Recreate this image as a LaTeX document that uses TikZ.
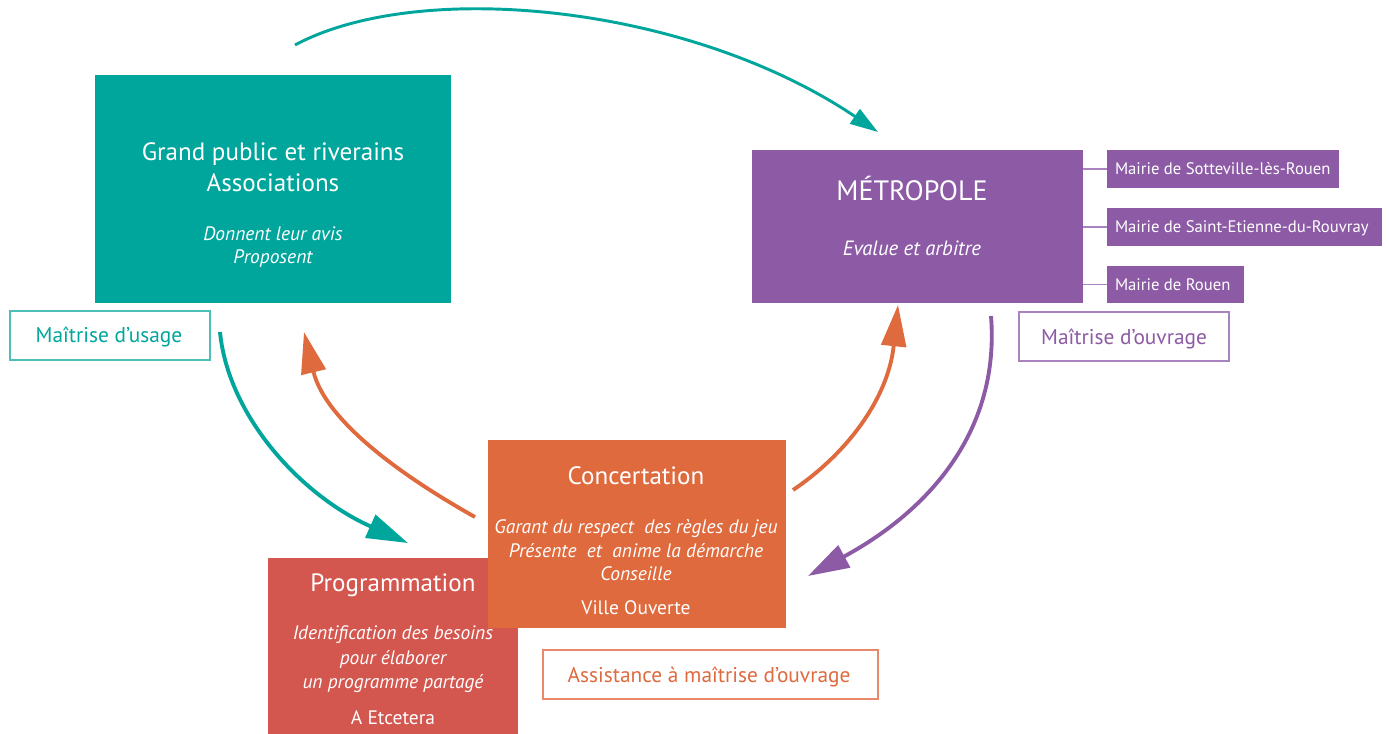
\documentclass[tikz,border=0pt]{standalone}
\usepackage{fontspec}
\setmainfont{PT Sans}
\usetikzlibrary{arrows.meta}
\definecolor{cteal}{HTML}{00A69C}
\definecolor{cpurple}{HTML}{8D5BA6}
\definecolor{corange}{HTML}{DF6A3E}
\definecolor{cred}{HTML}{D4574F}
\definecolor{cteallight}{HTML}{4DBFB6}
\definecolor{cpurplelight}{HTML}{A983BD}
\definecolor{corangelight}{HTML}{E8896A}
\newcommand{\fsz}[1]{\fontsize{#1}{#1}\selectfont}
\begin{document}
\begin{tikzpicture}[x=0.75pt,y=-0.75pt,
  box/.style={inner sep=0pt, outer sep=0pt, anchor=north west},
  lab/.style={inner sep=0pt, outer sep=0pt, anchor=base, text=white},
  tagbox/.style={inner sep=0pt, outer sep=0pt, anchor=north west, fill=white, line width=1.5pt},
  bigarrow/.style={line width=2.9pt, -{Triangle[length=31pt,width=18.5pt]}},
  toparrow/.style={line width=2.2pt, -{Triangle[length=21pt,width=13pt]}},
  title/.style={lab, font=\fsz{18.8}},
  ital/.style={lab, font=\fsz{14.6}\itshape},
  mairie/.style={box, fill=cpurple, minimum height=28.5pt},
  mtext/.style={inner sep=0pt, outer sep=0pt, anchor=base west, text=white, font=\fsz{12.5}},
]
\useasboundingbox (0,0) rectangle (1389,733);
\fill[white] (0,0) rectangle (1389,733);

% ---- Grand public box
\node[box, fill=cteal, minimum width=267pt, minimum height=171pt] (gp) at (95,75) {};
\node[title] (gp1) at (273,160) {Grand public et riverains};
\node[title] (gp2) at (273,191) {Associations};
\node[ital] (gp3) at (273,240) {Donnent leur avis};
\node[ital] (gp4) at (273,263) {Proposent};

% ---- Maitrise d'usage
\node[tagbox, draw=cteallight, minimum width=150pt, minimum height=36.75pt] (mu) at (10,311) {};
\node[lab, text=cteal, font=\fsz{16}] (mut) at (109,342) {Maîtrise d’usage};

% ---- Metropole
\node[box, fill=cpurple, minimum width=248.25pt, minimum height=114.75pt] (met) at (752,150) {};
\node[lab, font=\fsz{21}] (met1) at (912,200) {MÉTROPOLE};
\node[lab, font=\fsz{15.5}\itshape] (met2) at (912,255) {Evalue et arbitre};

\node[mairie, minimum width=174pt] (m1) at (1107,150) {};
\node[mairie, minimum width=206.25pt] (m2) at (1107,208) {};
\node[mairie, minimum width=102.75pt, minimum height=27.75pt] (m3) at (1107,266) {};
\node[mtext] (m1t) at (1115,174.5) {Mairie de Sotteville-lès-Rouen};
\node[mtext] (m2t) at (1115,232.5) {Mairie de Saint-Etienne-du-Rouvray};
\node[mtext] (m3t) at (1115,290) {Mairie de Rouen};
\draw[cpurplelight, line width=1.2pt] (m1.west) -- (m1.west -| met.east);
\draw[cpurplelight, line width=1.2pt] (m2.west) -- (m2.west -| met.east);
\draw[cpurplelight, line width=1.2pt] (m3.west) -- (m3.west -| met.east);

% ---- Maitrise d'ouvrage
\node[tagbox, draw=cpurplelight, minimum width=157.5pt, minimum height=36.75pt] (mo) at (1019,312) {};
\node[lab, text=cpurple, font=\fsz{16}] (mot) at (1124,344) {Maîtrise d’ouvrage};

% ---- Programmation
\node[box, fill=cred, minimum width=187.5pt, minimum height=133pt] (prog) at (268,558) {};
\node[title] (pr1) at (393,591) {Programmation};
\node[ital] (pr2) at (393,639) {Identification des besoins};
\node[ital] (pr3) at (393,664) {pour élaborer};
\node[ital] (pr4) at (393,688) {un programme partagé};
\node[lab, font=\fsz{14.6}] (pr5) at (393,724) {A Etcetera};

% ---- Concertation
\node[box, fill=corange, minimum width=223.5pt, minimum height=141pt] (con) at (488,440) {};
\node[title] (co1) at (636,484) {Concertation};
\node[ital] (co2) at (636,533) {Garant du respect\ \ des règles du jeu};
\node[ital] (co3) at (636,557) {Présente\ \ et\ \ anime la démarche};
\node[ital] (co4) at (636,580) {Conseille};
\node[lab, font=\fsz{14.6}] (co5) at (636,614) {Ville Ouverte};

% ---- Assistance
\node[tagbox, draw=corangelight, minimum width=251.25pt, minimum height=36.75pt] (as) at (543,650) {};
\node[lab, text=corange, font=\fsz{16}] (ast) at (709,682) {Assistance à maîtrise d’ouvrage};

% ---- arrows
\coordinate (a1s) at (295,45);
\coordinate (a1e) at (878,132);
\coordinate (a2s) at (220,332);
\coordinate (a2e) at (408,543);
\coordinate (a3s) at (475,517);
\coordinate (a3e) at (304,332);
\coordinate (a4s) at (793,490);
\coordinate (a4e) at (898,305);
\coordinate (a5s) at (991,316);
\coordinate (a5e) at (808,576);

\draw[toparrow, cteal] (a1s) .. controls (420,-22) and (690,5) .. (a1e);
\draw[bigarrow, cteal] (a2s) .. controls (228,415) and (300,495) .. (a2e);
\draw[bigarrow, corange] (a3s) .. controls (400,475) and (325,420) .. (a3e);
\draw[bigarrow, corange] (a4s) .. controls (845,455) and (888,400) .. (a4e);
\draw[bigarrow, cpurple] (a5s) .. controls (1000,430) and (930,510) .. (a5e);
\end{tikzpicture}
\end{document}
